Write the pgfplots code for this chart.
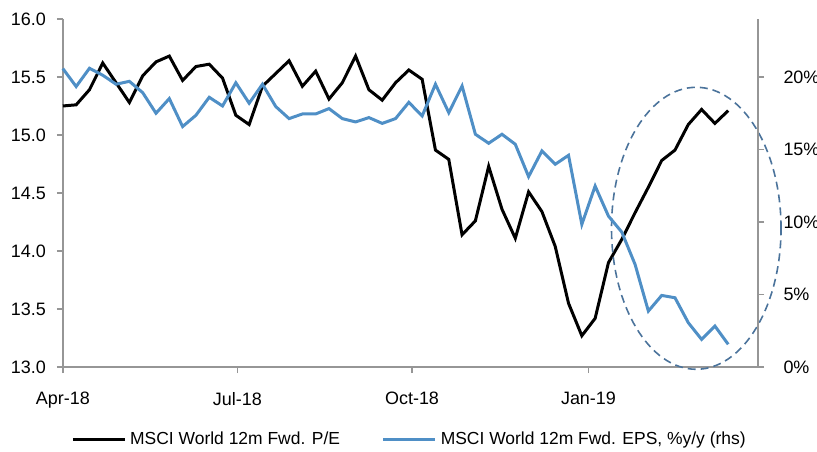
\documentclass[border=0pt]{standalone}
\usepackage{fontspec}
\setmainfont{Liberation Sans}
\usepackage{pgfplots}
\usepackage{pgfplotstable}
\pgfplotsset{compat=1.18}
\definecolor{epsblue}{RGB}{79,143,198}
\definecolor{ringblue}{RGB}{75,115,155}
\definecolor{axgray}{RGB}{150,150,150}

\pgfplotstableread{
i pe
0 15.25
1 15.26
2 15.39
3 15.62
4 15.45
5 15.28
6 15.51
7 15.63
8 15.68
9 15.47
10 15.59
11 15.61
12 15.49
13 15.17
14 15.09
15 15.42
16 15.53
17 15.64
18 15.42
19 15.55
20 15.31
21 15.45
22 15.68
23 15.39
24 15.30
25 15.45
26 15.56
27 15.48
28 14.87
29 14.79
30 14.14
31 14.26
32 14.73
33 14.36
34 14.11
35 14.51
36 14.34
37 14.04
38 13.55
39 13.27
40 13.42
41 13.90
42 14.10
43 14.33
44 14.55
45 14.78
46 14.87
47 15.09
48 15.22
49 15.10
50 15.21
}\petable

\pgfplotstableread{
i eps
0 20.58
1 19.34
2 20.60
3 20.12
4 19.50
5 19.70
6 18.92
7 17.50
8 18.51
9 16.58
10 17.36
11 18.60
12 18.00
13 19.60
14 18.19
15 19.50
16 17.96
17 17.13
18 17.45
19 17.45
20 17.82
21 17.13
22 16.90
23 17.20
24 16.80
25 17.13
26 18.25
27 17.31
28 19.50
29 17.54
30 19.38
31 16.05
32 15.43
33 16.05
34 15.36
35 13.13
36 14.90
37 13.98
38 14.60
39 9.84
40 12.48
41 10.41
42 9.31
43 7.08
44 3.86
45 4.94
46 4.78
47 3.06
48 1.91
49 2.83
50 1.57
}\epstable

\begin{document}
\begin{tikzpicture}
\pgfplotsset{
  base/.style={
    scale only axis, width=348.5pt, height=174.5pt,
    xmin=0, xmax=52.25,
    tick align=outside, major tick length=3pt,
    tick style={axgray, line width=0.75pt},
    axis line style={axgray, line width=0.75pt},
    ticklabel style={font=\fontsize{9}{10}\selectfont, text=black},
    /pgf/number format/assume math mode=true,
    clip=false,
  }
}
\begin{axis}[base, name=ax,
  axis x line*=bottom, axis y line*=left,
  ymin=13, ymax=16, ytick={13,13.5,...,16},
  yticklabel style={/pgf/number format/fixed, /pgf/number format/fixed zerofill, /pgf/number format/precision=1, xshift=-2pt},
  xtick={0,13.12,26.24,39.5},
  xticklabels={Apr-18,Jul-18,Oct-18,Jan-19},
  xticklabel style={yshift=-6pt},
]
\addplot[black, line width=1.5pt] table[x=i,y=pe]{\petable};
\draw[ringblue, line width=0.8pt, dash pattern=on 4pt off 2.5pt] (axis cs:47.6,14.196) ellipse [x radius=6.37, y radius=1.215];
\end{axis}
\begin{axis}[base,
  axis x line=none, axis y line*=right,
  ymin=0, ymax=24, ytick={0,5,10,15,20},
  yticklabels={0\%,5\%,10\%,15\%,20\%},
  yticklabel style={inner sep=1pt, xshift=8.5pt},
  legend columns=2,
  legend style={at={(0.5,-0.209)}, anchor=center, draw=none, fill=none,
    font=\fontsize{8.75}{10}\selectfont,
    /tikz/every even column/.append style={column sep=19pt}},
  legend image code/.code={\draw[#1] (0pt,0pt) -- (26pt,0pt);},
]
\addlegendimage{black, line width=1.5pt}
\addlegendentry{MSCI World 12m Fwd. P/E}
\addplot[epsblue, line width=1.5pt] table[x=i,y=eps]{\epstable};
\addlegendentry{MSCI World 12m Fwd. EPS, \%y/y (rhs)}
\end{axis}
\pgfresetboundingbox
\path[use as bounding box] ([shift={(-31.5pt,-42.5pt)}]ax.south west) rectangle ([shift={(29.5pt,9.5pt)}]ax.north east);
\end{tikzpicture}
\end{document}
